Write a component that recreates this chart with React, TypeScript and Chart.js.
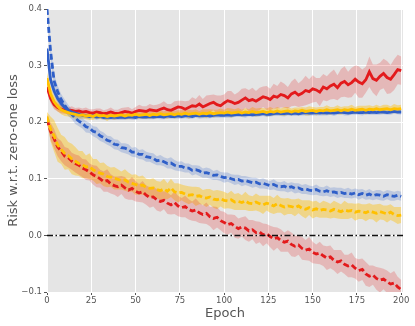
import React, { useEffect, useRef } from 'react';
import { Chart, registerables } from 'chart.js';

Chart.register(...registerables);

const epochs = [
  0, 2, 4, 6, 8, 10, 12, 14, 16, 18,
  20, 22, 24, 26, 28, 30, 32, 34, 36, 38,
  40, 42, 44, 46, 48, 50, 52, 54, 56, 58,
  60, 62, 64, 66, 68, 70, 72, 74, 76, 78,
  80, 82, 84, 86, 88, 90, 92, 94, 96, 98,
  100, 102, 104, 106, 108, 110, 112, 114, 116, 118,
  120, 122, 124, 126, 128, 130, 132, 134, 136, 138,
  140, 142, 144, 146, 148, 150, 152, 154, 156, 158,
  160, 162, 164, 166, 168, 170, 172, 174, 176, 178,
  180, 182, 184, 186, 188, 190, 192, 194, 196, 198,
  200,
];

const redSolid = [
  0.262, 0.242, 0.231, 0.226, 0.223, 0.221, 0.220, 0.221, 0.219, 0.220,
  0.218, 0.219, 0.217, 0.216, 0.218, 0.217, 0.215, 0.216, 0.218, 0.216,
  0.215, 0.217, 0.219, 0.218, 0.216, 0.219, 0.221, 0.220, 0.219, 0.222,
  0.221, 0.220, 0.223, 0.225, 0.222, 0.221, 0.224, 0.227, 0.226, 0.223,
  0.226, 0.229, 0.228, 0.232, 0.227, 0.230, 0.233, 0.235, 0.231, 0.229,
  0.234, 0.238, 0.236, 0.233, 0.235, 0.239, 0.243, 0.238, 0.240, 0.237,
  0.241, 0.245, 0.243, 0.240, 0.246, 0.244, 0.249, 0.247, 0.243, 0.250,
  0.253, 0.248, 0.251, 0.256, 0.254, 0.259, 0.257, 0.253, 0.262, 0.259,
  0.264, 0.267, 0.261, 0.269, 0.272, 0.266, 0.270, 0.276, 0.271, 0.268,
  0.275, 0.289, 0.277, 0.274, 0.281, 0.286, 0.279, 0.276, 0.284, 0.293,
  0.291,
];
const redSolidSd = [
  0.006, 0.008, 0.008, 0.007, 0.007, 0.006, 0.006, 0.007, 0.006, 0.006,
  0.006, 0.007, 0.006, 0.007, 0.006, 0.007, 0.006, 0.007, 0.008, 0.006,
  0.007, 0.008, 0.007, 0.009, 0.007, 0.008, 0.010, 0.008, 0.009, 0.010,
  0.009, 0.011, 0.010, 0.012, 0.010, 0.011, 0.013, 0.011, 0.012, 0.014,
  0.012, 0.015, 0.013, 0.016, 0.014, 0.017, 0.015, 0.014, 0.016, 0.018,
  0.015, 0.017, 0.019, 0.016, 0.018, 0.020, 0.017, 0.019, 0.021, 0.018,
  0.020, 0.018, 0.021, 0.019, 0.022, 0.020, 0.023, 0.021, 0.019, 0.022,
  0.024, 0.021, 0.023, 0.026, 0.022, 0.024, 0.021, 0.025, 0.023, 0.022,
  0.024, 0.026, 0.022, 0.025, 0.027, 0.023, 0.026, 0.024, 0.028, 0.025,
  0.023, 0.027, 0.025, 0.028, 0.024, 0.026, 0.029, 0.025, 0.027, 0.026,
  0.025,
];

const yellowSolid = [
  0.278, 0.250, 0.236, 0.228, 0.222, 0.219, 0.217, 0.215, 0.214, 0.212,
  0.213, 0.211, 0.212, 0.210, 0.213, 0.211, 0.212, 0.210, 0.212, 0.211,
  0.212, 0.213, 0.211, 0.213, 0.212, 0.214, 0.212, 0.213, 0.214, 0.212,
  0.214, 0.213, 0.215, 0.213, 0.214, 0.215, 0.213, 0.215, 0.214, 0.216,
  0.214, 0.215, 0.216, 0.214, 0.216, 0.215, 0.217, 0.215, 0.216, 0.217,
  0.216, 0.218, 0.216, 0.217, 0.218, 0.216, 0.218, 0.217, 0.219, 0.217,
  0.218, 0.219, 0.217, 0.219, 0.218, 0.220, 0.218, 0.219, 0.220, 0.218,
  0.220, 0.219, 0.221, 0.219, 0.220, 0.221, 0.219, 0.221, 0.220, 0.222,
  0.220, 0.221, 0.222, 0.220, 0.222, 0.221, 0.223, 0.221, 0.222, 0.223,
  0.221, 0.223, 0.222, 0.224, 0.222, 0.223, 0.224, 0.222, 0.224, 0.223,
  0.224,
];
const yellowSolidSd = [
  0.010, 0.013, 0.011, 0.009, 0.008, 0.008, 0.007, 0.007, 0.008, 0.006,
  0.007, 0.006, 0.008, 0.006, 0.007, 0.006, 0.007, 0.008, 0.006, 0.007,
  0.006, 0.007, 0.006, 0.008, 0.006, 0.007, 0.006, 0.007, 0.008, 0.006,
  0.007, 0.006, 0.007, 0.006, 0.008, 0.006, 0.007, 0.006, 0.007, 0.006,
  0.008, 0.006, 0.007, 0.006, 0.007, 0.008, 0.006, 0.007, 0.006, 0.007,
  0.006, 0.007, 0.008, 0.006, 0.007, 0.006, 0.007, 0.006, 0.008, 0.007,
  0.007, 0.006, 0.007, 0.008, 0.006, 0.007, 0.006, 0.008, 0.007, 0.006,
  0.006, 0.007, 0.006, 0.007, 0.008, 0.006, 0.007, 0.006, 0.007, 0.008,
  0.007, 0.006, 0.008, 0.007, 0.006, 0.007, 0.008, 0.006, 0.007, 0.006,
  0.008, 0.007, 0.006, 0.007, 0.006, 0.008, 0.007, 0.006, 0.008, 0.007,
  0.007,
];

const blueSolid = [
  0.330, 0.275, 0.255, 0.242, 0.233, 0.226, 0.221, 0.218, 0.216, 0.214,
  0.212, 0.211, 0.210, 0.211, 0.209, 0.210, 0.208, 0.209, 0.208, 0.209,
  0.208, 0.209, 0.208, 0.209, 0.209, 0.208, 0.210, 0.209, 0.209, 0.210,
  0.209, 0.210, 0.210, 0.209, 0.211, 0.210, 0.210, 0.211, 0.210, 0.211,
  0.211, 0.210, 0.212, 0.211, 0.211, 0.212, 0.211, 0.212, 0.213, 0.212,
  0.212, 0.213, 0.212, 0.213, 0.214, 0.213, 0.213, 0.214, 0.213, 0.214,
  0.214, 0.215, 0.214, 0.214, 0.215, 0.216, 0.215, 0.215, 0.216, 0.215,
  0.216, 0.215, 0.216, 0.217, 0.216, 0.216, 0.217, 0.216, 0.217, 0.216,
  0.217, 0.216, 0.217, 0.218, 0.217, 0.216, 0.217, 0.218, 0.217, 0.217,
  0.218, 0.217, 0.218, 0.217, 0.218, 0.218, 0.217, 0.218, 0.219, 0.218,
  0.218,
];
const blueSolidSd = [
  0.004, 0.010, 0.008, 0.007, 0.006, 0.006, 0.005, 0.005, 0.005, 0.005,
  0.005, 0.004, 0.005, 0.004, 0.005, 0.004, 0.004, 0.005, 0.004, 0.005,
  0.004, 0.005, 0.004, 0.004, 0.005, 0.004, 0.005, 0.004, 0.004, 0.005,
  0.004, 0.004, 0.005, 0.004, 0.005, 0.004, 0.004, 0.005, 0.004, 0.004,
  0.005, 0.004, 0.004, 0.005, 0.004, 0.005, 0.004, 0.004, 0.005, 0.004,
  0.004, 0.005, 0.004, 0.004, 0.005, 0.004, 0.005, 0.004, 0.004, 0.005,
  0.004, 0.004, 0.005, 0.004, 0.004, 0.005, 0.004, 0.005, 0.004, 0.004,
  0.005, 0.004, 0.004, 0.005, 0.004, 0.004, 0.005, 0.004, 0.005, 0.004,
  0.004, 0.005, 0.004, 0.004, 0.005, 0.004, 0.004, 0.005, 0.004, 0.005,
  0.004, 0.004, 0.005, 0.004, 0.005, 0.004, 0.004, 0.005, 0.004, 0.004,
  0.005,
];

const blueDashed = [
  0.400, 0.326, 0.273, 0.254, 0.240, 0.230, 0.221, 0.214, 0.207, 0.202,
  0.198, 0.192, 0.190, 0.184, 0.182, 0.176, 0.173, 0.168, 0.166, 0.161,
  0.160, 0.155, 0.154, 0.152, 0.147, 0.147, 0.143, 0.143, 0.139, 0.138,
  0.136, 0.132, 0.133, 0.130, 0.127, 0.128, 0.124, 0.122, 0.122, 0.119,
  0.119, 0.115, 0.116, 0.114, 0.110, 0.111, 0.109, 0.106, 0.107, 0.104,
  0.102, 0.103, 0.100, 0.098, 0.099, 0.096, 0.097, 0.095, 0.093, 0.094,
  0.091, 0.092, 0.090, 0.088, 0.090, 0.087, 0.086, 0.087, 0.084, 0.086,
  0.083, 0.084, 0.081, 0.082, 0.080, 0.079, 0.081, 0.078, 0.077, 0.079,
  0.076, 0.077, 0.075, 0.076, 0.074, 0.075, 0.073, 0.075, 0.072, 0.074,
  0.071, 0.073, 0.070, 0.072, 0.071, 0.069, 0.072, 0.070, 0.069, 0.071,
  0.069,
];
const blueDashedSd = [
  0.004, 0.010, 0.012, 0.011, 0.010, 0.010, 0.010, 0.009, 0.010, 0.009,
  0.009, 0.010, 0.009, 0.009, 0.010, 0.009, 0.009, 0.008, 0.009, 0.009,
  0.009, 0.008, 0.009, 0.009, 0.008, 0.009, 0.008, 0.009, 0.009, 0.008,
  0.009, 0.008, 0.009, 0.008, 0.009, 0.010, 0.009, 0.008, 0.009, 0.008,
  0.008, 0.009, 0.008, 0.009, 0.008, 0.009, 0.009, 0.008, 0.009, 0.008,
  0.009, 0.008, 0.008, 0.009, 0.008, 0.009, 0.008, 0.008, 0.009, 0.008,
  0.008, 0.009, 0.008, 0.008, 0.009, 0.008, 0.008, 0.009, 0.008, 0.008,
  0.009, 0.008, 0.008, 0.009, 0.008, 0.008, 0.009, 0.008, 0.008, 0.009,
  0.008, 0.008, 0.009, 0.008, 0.008, 0.009, 0.008, 0.008, 0.009, 0.008,
  0.008, 0.009, 0.008, 0.008, 0.009, 0.008, 0.008, 0.009, 0.008, 0.008,
  0.008,
];

const yellowDashed = [
  0.210, 0.188, 0.176, 0.160, 0.152, 0.145, 0.141, 0.135, 0.131, 0.127,
  0.125, 0.121, 0.122, 0.116, 0.113, 0.110, 0.108, 0.104, 0.103, 0.101,
  0.099, 0.097, 0.098, 0.094, 0.092, 0.090, 0.088, 0.089, 0.085, 0.083,
  0.084, 0.081, 0.079, 0.082, 0.078, 0.084, 0.077, 0.075, 0.076, 0.073,
  0.071, 0.072, 0.069, 0.070, 0.067, 0.066, 0.068, 0.064, 0.063, 0.065,
  0.062, 0.061, 0.063, 0.059, 0.060, 0.058, 0.061, 0.057, 0.056, 0.059,
  0.056, 0.054, 0.057, 0.055, 0.052, 0.056, 0.053, 0.050, 0.052, 0.051,
  0.049, 0.052, 0.048, 0.046, 0.049, 0.045, 0.047, 0.044, 0.046, 0.045,
  0.043, 0.046, 0.044, 0.042, 0.045, 0.043, 0.044, 0.041, 0.043, 0.042,
  0.040, 0.043, 0.041, 0.039, 0.042, 0.040, 0.038, 0.041, 0.037, 0.035,
  0.036,
];
const yellowDashedSd = [
  0.008, 0.022, 0.028, 0.030, 0.026, 0.029, 0.024, 0.027, 0.025, 0.022,
  0.024, 0.020, 0.023, 0.019, 0.022, 0.018, 0.021, 0.019, 0.017, 0.020,
  0.018, 0.016, 0.019, 0.017, 0.015, 0.018, 0.016, 0.017, 0.015, 0.016,
  0.017, 0.015, 0.016, 0.018, 0.014, 0.016, 0.015, 0.017, 0.014, 0.015,
  0.016, 0.014, 0.017, 0.015, 0.013, 0.016, 0.014, 0.015, 0.017, 0.014,
  0.015, 0.013, 0.016, 0.014, 0.015, 0.013, 0.016, 0.014, 0.013, 0.015,
  0.014, 0.016, 0.013, 0.015, 0.014, 0.016, 0.013, 0.015, 0.014, 0.013,
  0.015, 0.013, 0.014, 0.016, 0.013, 0.015, 0.014, 0.013, 0.015, 0.014,
  0.013, 0.015, 0.014, 0.013, 0.016, 0.014, 0.013, 0.015, 0.014, 0.013,
  0.015, 0.014, 0.013, 0.016, 0.014, 0.013, 0.015, 0.014, 0.013, 0.015,
  0.014,
];

const redDashed = [
  0.205, 0.184, 0.171, 0.156, 0.149, 0.140, 0.137, 0.131, 0.127, 0.124,
  0.119, 0.116, 0.112, 0.107, 0.104, 0.100, 0.095, 0.097, 0.091, 0.088,
  0.086, 0.089, 0.084, 0.080, 0.083, 0.078, 0.075, 0.077, 0.071, 0.067,
  0.068, 0.063, 0.060, 0.062, 0.057, 0.054, 0.058, 0.052, 0.049, 0.051,
  0.046, 0.043, 0.045, 0.040, 0.037, 0.039, 0.033, 0.030, 0.032, 0.026,
  0.023, 0.019, 0.021, 0.016, 0.012, 0.015, 0.013, 0.008, 0.010, 0.005,
  0.006, 0.001, 0.003, -0.002, -0.006, -0.004, -0.009, -0.012, -0.010, -0.016,
  -0.019, -0.017, -0.023, -0.026, -0.024, -0.030, -0.033, -0.031, -0.036, -0.040,
  -0.038, -0.044, -0.047, -0.045, -0.051, -0.054, -0.052, -0.058, -0.062, -0.060,
  -0.068, -0.072, -0.070, -0.076, -0.079, -0.077, -0.082, -0.086, -0.084, -0.091,
  -0.096,
];
const redDashedSd = [
  0.008, 0.015, 0.017, 0.016, 0.018, 0.016, 0.017, 0.015, 0.016, 0.017,
  0.016, 0.018, 0.015, 0.017, 0.019, 0.016, 0.018, 0.020, 0.017, 0.016,
  0.018, 0.016, 0.019, 0.017, 0.020, 0.018, 0.016, 0.019, 0.017, 0.018,
  0.017, 0.019, 0.018, 0.016, 0.019, 0.017, 0.020, 0.018, 0.017, 0.019,
  0.018, 0.017, 0.020, 0.018, 0.016, 0.019, 0.017, 0.021, 0.018, 0.017,
  0.019, 0.018, 0.016, 0.020, 0.018, 0.017, 0.021, 0.019, 0.017, 0.020,
  0.018, 0.020, 0.017, 0.019, 0.021, 0.018, 0.020, 0.017, 0.019, 0.021,
  0.019, 0.017, 0.020, 0.018, 0.021, 0.019, 0.017, 0.020, 0.018, 0.021,
  0.020, 0.018, 0.021, 0.019, 0.017, 0.020, 0.022, 0.018, 0.020, 0.019,
  0.021, 0.019, 0.017, 0.020, 0.022, 0.018, 0.020, 0.019, 0.021, 0.018,
  0.017,
];

const zeroLineX = [0, 201];
const zeroLineY = [0, 0];

const xTicks = [0, 25, 50, 75, 100, 125, 150, 175, 200];
const yTicks = [-0.1, 0.0, 0.1, 0.2, 0.3, 0.4];

const RED = '#E31A1C';
const YELLOW = '#FFC000';
const BLUE = '#2F5FC8';
const RED_BAND = 'rgba(227,26,28,0.22)';
const YELLOW_BAND = 'rgba(255,190,0,0.40)';
const BLUE_BAND = 'rgba(47,95,200,0.22)';

const bgPlugin = {
  id: 'bgArea',
  beforeDraw(chart: any) {
    const { ctx, chartArea } = chart;
    ctx.save();
    ctx.fillStyle = '#E5E5E5';
    ctx.fillRect(chartArea.left, chartArea.top, chartArea.right - chartArea.left, chartArea.bottom - chartArea.top);
    ctx.restore();
  },
};

function pts(ys: number[]) {
  return epochs.map((e, i) => ({ x: e, y: ys[i] }));
}

export default function App() {
  const ref = useRef<HTMLCanvasElement>(null);
  useEffect(() => {
    document.body.style.margin = '0';
    const series = [
      { mean: redSolid, sd: redSolidSd, color: RED, band: RED_BAND, dash: [] as number[], order: 3 },
      { mean: redDashed, sd: redDashedSd, color: RED, band: RED_BAND, dash: [6, 3], order: 3 },
      { mean: blueSolid, sd: blueSolidSd, color: BLUE, band: BLUE_BAND, dash: [] as number[], order: 2 },
      { mean: blueDashed, sd: blueDashedSd, color: BLUE, band: BLUE_BAND, dash: [6, 3], order: 2 },
      { mean: yellowSolid, sd: yellowSolidSd, color: YELLOW, band: YELLOW_BAND, dash: [] as number[], order: 1 },
      { mean: yellowDashed, sd: yellowDashedSd, color: YELLOW, band: YELLOW_BAND, dash: [6, 3], order: 1 },
    ];
    const datasets: any[] = [];
    series.forEach((s) => {
      datasets.push({
        data: pts(s.mean.map((m, i) => m - s.sd[i])),
        borderWidth: 0,
        pointRadius: 0,
        fill: false,
        order: 20,
      });
      datasets.push({
        data: pts(s.mean.map((m, i) => m + s.sd[i])),
        borderWidth: 0,
        pointRadius: 0,
        backgroundColor: s.band,
        fill: '-1',
        order: 20,
      });
    });
    series.forEach((s) => {
      datasets.push({
        data: pts(s.mean),
        borderColor: s.color,
        borderWidth: 2.8,
        borderDash: s.dash,
        pointRadius: 0,
        fill: false,
        order: s.order,
      });
    });
    datasets.push({
      data: zeroLineX.map((x, i) => ({ x, y: zeroLineY[i] })),
      borderColor: '#111111',
      borderWidth: 1.5,
      borderDash: [6, 2.5, 1.5, 2.5],
      pointRadius: 0,
      fill: false,
      order: 0,
    });

    const chart = new Chart(ref.current!, {
      type: 'line',
      data: { datasets },
      options: {
        responsive: false,
        animation: false,
        devicePixelRatio: 1,
        layout: { padding: { top: 9, right: 12, left: 0, bottom: 0 } },
        elements: { line: { tension: 0, borderCapStyle: 'butt' } },
        plugins: { legend: { display: false }, tooltip: { enabled: false } },
        scales: {
          x: {
            type: 'linear',
            min: 0,
            max: 201,
            afterBuildTicks: (scale: any) => {
              scale.ticks = xTicks.map((v) => ({ value: v }));
            },
            afterFit: (scale: any) => {
              scale.height = 34;
            },
            grid: { color: '#FFFFFF', lineWidth: 1, tickColor: '#555555', tickLength: 3 },
            border: { display: false },
            ticks: {
              color: '#555555',
              font: { family: 'DejaVu Sans', size: 8.5 },
              padding: 1,
              maxRotation: 0,
              autoSkip: false,
              callback: (v: any) => String(v),
            },
            title: {
              display: true,
              text: 'Epoch',
              color: '#555555',
              font: { family: 'DejaVu Sans', size: 13 },
              padding: { top: 0, bottom: 5 },
            },
          },
          y: {
            type: 'linear',
            min: -0.1,
            max: 0.4,
            afterBuildTicks: (scale: any) => {
              scale.ticks = yTicks.map((v) => ({ value: v }));
            },
            afterFit: (scale: any) => {
              scale.width = 47;
            },
            grid: { color: '#FFFFFF', lineWidth: 1, tickColor: '#555555', tickLength: 3 },
            border: { display: false },
            ticks: {
              color: '#555555',
              font: { family: 'DejaVu Sans', size: 8.5 },
              padding: 2,
              autoSkip: false,
              callback: (v: any) => Number(v).toFixed(1).replace('-', '\u2212'),
            },
            title: {
              display: true,
              text: 'Risk w.r.t. zero-one loss',
              color: '#555555',
              font: { family: 'DejaVu Sans', size: 13 },
              padding: { top: 6, bottom: 0 },
            },
          },
        },
      },
      plugins: [bgPlugin],
    } as any);
    return () => chart.destroy();
  }, []);
  return (
    <div style={{ position: 'absolute', left: 0, top: 0, width: 415, height: 326 }}>
      <canvas ref={ref} width={415} height={326} style={{ display: 'block' }} />
    </div>
  );
}
